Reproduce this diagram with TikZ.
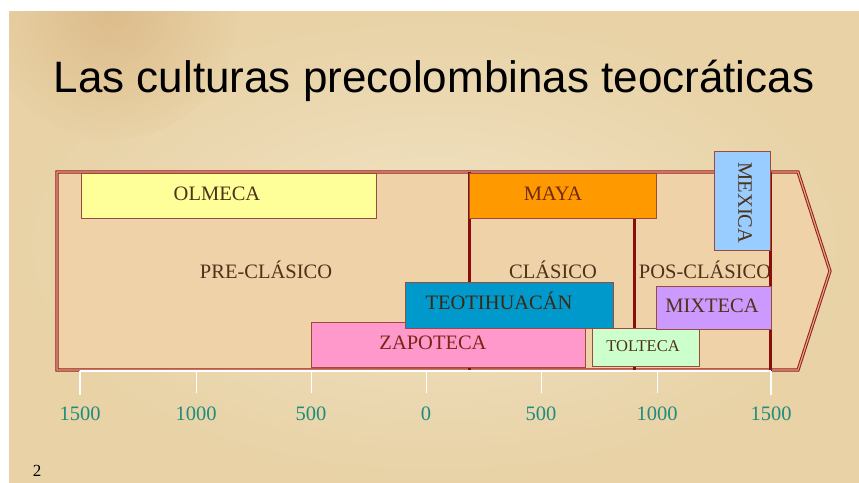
\documentclass[tikz,border=0pt]{standalone}
\usepackage{fontspec}
\setmainfont{Liberation Serif}
\newfontfamily\titlefont{Liberation Sans}
\usetikzlibrary{calc}
\definecolor{fondo}{HTML}{E8D2A6}
\definecolor{fondoclaro}{HTML}{F1E3C4}
\definecolor{flechafondo}{HTML}{EFD2A8}
\definecolor{rojo}{HTML}{961C1C}
\definecolor{rojooscuro}{HTML}{8A0E0E}
\definecolor{rojoclaro}{HTML}{E3A588}
\definecolor{borde}{HTML}{9A4B3B}
\definecolor{cafe}{HTML}{4E3219}
\definecolor{verdeazul}{HTML}{1E8C7E}
\definecolor{amarillo}{HTML}{FFFF99}
\definecolor{naranja}{HTML}{FF9900}
\definecolor{celeste}{HTML}{99CCFF}
\definecolor{azul}{HTML}{0099CC}
\definecolor{rosa}{HTML}{FF99CC}
\definecolor{verdeclaro}{HTML}{CCFFCC}
\definecolor{lila}{HTML}{CC99FF}
\tikzset{
	cultura/.style={draw=borde, line width=0.8pt},
	etiqueta/.style={text=cafe, inner sep=0pt, anchor=base,
			font=\fontsize{20.5}{22}\selectfont},
	periodo/.style={etiqueta},
	fecha/.style={text=verdeazul, inner sep=0pt,
			font=\fontsize{20.5}{22}\selectfont},
	divisor/.style={draw=rojooscuro, line width=3pt}
}

\begin{document}
\begin{tikzpicture}[x=1pt, y=-1pt]
			\useasboundingbox (0,0) rectangle (859,482);
			\fill [white] (0,0) rectangle (859,482);
			\shade [inner color=fondoclaro, outer color=fondo] (9,11) rectangle (859,482);
			\begin{scope}
				\clip (9,11) rectangle (859,482);
				\shade [inner color=brown!45!fondo, outer color=fondo, opacity=0.6] (110,10) circle (130);
			\end{scope}

			\node [font=\titlefont\fontsize{44}{50}\selectfont, anchor=base, inner sep=0pt]
				(titulo) at (434,92) {Las culturas precolombinas teocráticas};

			\draw [fill=flechafondo, draw=rojo, line width=1pt, double=rojoclaro, double distance=1.2pt]
				(57,172) -- (798,172) -- (830,271) -- (798,370) -- (57,370) -- cycle;

			\node [periodo] (preclasico) at (266,278) {PRE-CLÁSICO};
			\node [periodo] (clasico) at (553,278) {CLÁSICO};
			\node [periodo] (posclasico) at (705,278) {POS-CLÁSICO};

			\draw [divisor] (469,172) -- (469,370);
			\draw [divisor] (634,190) -- (634,370);
			\draw [divisor] (770,172) -- (770,371);

			\draw [white, line width=1.5pt] (80,371) -- (771,371);
			\foreach \x/\t in {196/1000, 311/500, 426/0, 541/500, 657/1000}{
				\draw [white, line width=0.9pt] (\x,371) -- (\x,393);
				\node [fecha] (fecha\x) at (\x,414) {\t};
			}
			\foreach \x/\t in {80/1500, 771/1500}{
				\draw [white, line width=2.6pt] (\x,371) -- (\x,395);
				\node [fecha] (fecha\x) at (\x,414) {\t};
			}

			\path [cultura, fill=amarillo] (81,173) rectangle (376,218);
			\node [etiqueta] (olmeca) at (217,200) {OLMECA};

			\path [cultura, fill=naranja] (469,173) rectangle (656,218);
			\node [etiqueta, text=cafe!80!red] (maya) at (553,200) {MAYA};

			\path [cultura, fill=rosa] (311,322) rectangle (585,367);
			\node [etiqueta, text=cafe!75!red] (zapoteca) at (433,349) {ZAPOTECA};

			\path [cultura, fill=azul] (405,282) rectangle (613,328);
			\node [etiqueta, text=cafe!80!black] (teotihuacan) at (499,309) {TEOTIHUACÁN};

			\path [cultura, fill=verdeclaro] (592,328) rectangle (699,366);
			\node [etiqueta, font=\fontsize{16.5}{18}\selectfont] (tolteca) at (643,351) {TOLTECA};

			\path [cultura, fill=lila] (656,286) rectangle (771,329);
			\node [etiqueta] (mixteca) at (712,312) {MIXTECA};

			\path [cultura, fill=celeste] (714,151) rectangle (770,250);
			\node [etiqueta, anchor=center, rotate=-90] (mexica) at (745,203) {MEXICA};

			\node [font=\fontsize{17}{18}\selectfont, inner sep=0pt] (pagina) at (37,471) {2};
		\end{tikzpicture}
\end{document}
